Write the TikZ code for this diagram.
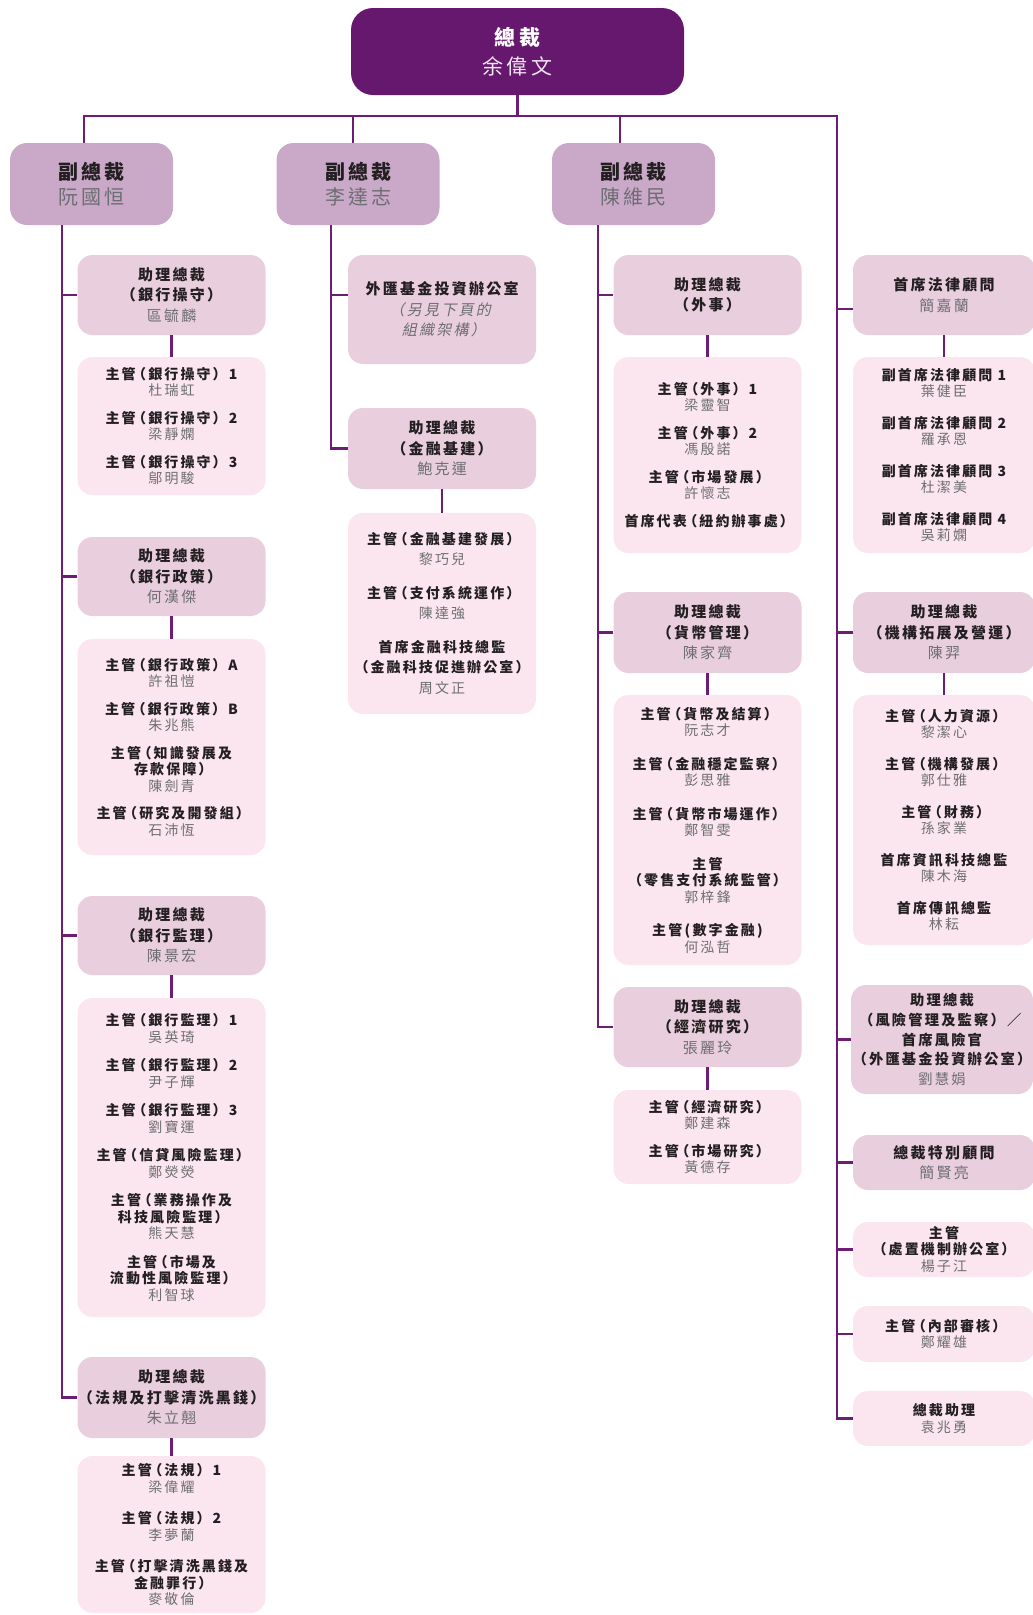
\documentclass[tikz,border=0pt]{standalone}
\usepackage{fontspec}
\setmainfont{Noto Sans CJK TC}[LetterSpace=15]
\newfontfamily\slantfont{Noto Sans CJK TC}[FakeSlant=0.2,LetterSpace=15]
\usetikzlibrary{positioning}

\definecolor{presfill}{HTML}{66176E}
\definecolor{vpfill}{HTML}{C9A8C8}
\definecolor{avpfill}{HTML}{E9CEDE}
\definecolor{stafffill}{HTML}{FBE6EF}
\definecolor{linkline}{HTML}{6E1D77}
\definecolor{titletext}{HTML}{231F20}
\definecolor{nametext}{HTML}{6D6E71}
\definecolor{presname}{HTML}{F0E4F2}

\newcommand{\nm}[1]{{\mdseries\color{nametext}#1}}
\newcommand{\fxnote}[1]{{\slantfont\mdseries\color{nametext}#1}}
\newcommand{\lp}{\kern-.25em（}
\newcommand{\rp}{）\kern-.25em}

\begin{document}
\begin{tikzpicture}[x=1pt,y=-1pt,
    link/.style={draw=linkline,line width=2.4pt},
    main node/.style={rounded corners=15pt,align=center,inner sep=0pt,
                      text=titletext,minimum width=188pt},
    pres node/.style={main node,fill=presfill,text=white,minimum width=333pt,
                      minimum height=87pt,rounded corners=22pt,
                      font=\bfseries\fontsize{21}{29}\selectfont},
    vp node/.style={main node,fill=vpfill,minimum width=163pt,minimum height=82pt,
                    rounded corners=17pt,font=\bfseries\fontsize{20}{25}\selectfont},
    avp node/.style={main node,fill=avpfill,font=\bfseries\fontsize{15}{20.5}\selectfont},
    staff node/.style={main node,fill=stafffill,font=\bfseries\fontsize{14}{16.5}\selectfont},
    side node/.style={minimum width=182pt}]

  \useasboundingbox (0,0) rectangle (1033,1615);

  % top
  \node[pres node] (pres) at (517.5,51.5) {總裁\\{\mdseries\color{presname}余偉文}};
  \node[vp node] (vp1) at (91.5,184) {副總裁\\\nm{阮國恒}};
  \node[vp node] (vp2) at (358,184) {副總裁\\\nm{李達志}};
  \node[vp node] (vp3) at (633.5,184) {副總裁\\\nm{陳維民}};
  \coordinate (barR) at (837,116);

  % column 1
  \node[avp node,minimum height=80pt] (avpOps) at (171.5,295) {助理總裁\\\lp 銀行操守\rp\\\nm{區毓麟}};
  \node[staff node,minimum height=138pt] (staffOps) at (171.5,426)
    {主管\lp 銀行操守）1\\\nm{杜瑞虹}\\[11pt]
     主管\lp 銀行操守）2\\\nm{梁靜嫻}\\[11pt]
     主管\lp 銀行操守）3\\\nm{鄔明駿}};
  \node[avp node,minimum height=79pt] (avpPol) at (171.5,576.5) {助理總裁\\\lp 銀行政策\rp\\\nm{何漢傑}};
  \node[staff node,minimum height=216pt] (staffPol) at (171.5,747)
    {主管\lp 銀行政策）A\\\nm{許祖愷}\\[11pt]
     主管\lp 銀行政策）B\\\nm{朱兆熊}\\[11pt]
     主管\lp 知識發展及\\存款保障\rp\\\nm{陳劍青}\\[11pt]
     主管\lp 研究及開發組\rp\\\nm{石沛恆}};
  \node[avp node,minimum height=79pt] (avpSup) at (171.5,935.5) {助理總裁\\\lp 銀行監理\rp\\\nm{陳景宏}};
  \node[staff node,minimum height=319pt] (staffSup) at (171.5,1157.5)
    {主管\lp 銀行監理）1\\\nm{吳英琦}\\[12pt]
     主管\lp 銀行監理）2\\\nm{尹子輝}\\[12pt]
     主管\lp 銀行監理）3\\\nm{劉寶運}\\[12pt]
     主管\lp 信貸風險監理\rp\\\nm{鄭熒熒}\\[12pt]
     主管\lp 業務操作及\\科技風險監理\rp\\\nm{熊天慧}\\[12pt]
     主管\lp 市場及\\流動性風險監理\rp\\\nm{利智球}};
  \node[avp node,minimum height=81pt] (avpAml) at (171.5,1397.5) {助理總裁\\\lp 法規及打擊清洗黑錢\rp\\\nm{朱立翹}};
  \node[staff node,minimum height=157pt] (staffAml) at (171.5,1534.5)
    {主管\lp 法規）1\\\nm{梁偉耀}\\[15pt]
     主管\lp 法規）2\\\nm{李夢蘭}\\[15pt]
     主管\lp 打擊清洗黑錢及\\金融罪行\rp\\\nm{麥敬倫}};

  % column 2
  \node[avp node,minimum height=109pt] (fxOffice) at (442,309.5)
    {外匯基金投資辦公室\\\fxnote{\lp 另見下頁的}\\\fxnote{組織架構\rp}};
  \node[avp node,minimum height=81pt] (avpInfra) at (442,448.5) {助理總裁\\\lp 金融基建\rp\\\nm{鮑克運}};
  \node[staff node,minimum height=201pt,font=\bfseries\fontsize{14}{20.5}\selectfont] (staffInfra) at (442,613.5)
    {主管\lp 金融基建發展\rp\\\nm{黎巧兒}\\[13pt]
     主管\lp 支付系統運作\rp\\\nm{陳達強}\\[13pt]
     首席金融科技總監\\\lp 金融科技促進辦公室\rp\\\nm{周文正}};

  % column 3
  \node[avp node,minimum height=80pt] (avpExt) at (707.5,295) {助理總裁\\\lp 外事\rp};
  \node[staff node,minimum height=196pt] (staffExt) at (707.5,455)
    {主管\lp 外事）1\\\nm{梁靈智}\\[11pt]
     主管\lp 外事）2\\\nm{馮殷諾}\\[11pt]
     主管\lp 市場發展\rp\\\nm{許懷志}\\[11pt]
     首席代表\lp 紐約辦事處\rp};
  \node[avp node,minimum height=81pt] (avpMon) at (707.5,632.5) {助理總裁\\\lp 貨幣管理\rp\\\nm{陳家齊}};
  \node[staff node,minimum height=270pt] (staffMon) at (707.5,830)
    {主管\lp 貨幣及結算\rp\\\nm{阮志才}\\[17pt]
     主管\lp 金融穩定監察\rp\\\nm{彭思雅}\\[17pt]
     主管\lp 貨幣市場運作\rp\\\nm{鄭智雯}\\[17pt]
     主管\\\lp 零售支付系統監管\rp\\\nm{郭梓鋒}\\[17pt]
     主管\,(\,數字金融\,)\\\nm{何泓哲}};
  \node[avp node,minimum height=80pt] (avpRes) at (707.5,1027) {助理總裁\\\lp 經濟研究\rp\\\nm{張麗玲}};
  \node[staff node,minimum height=94pt] (staffRes) at (707.5,1137)
    {主管\lp 經濟研究\rp\\\nm{鄭建森}\\[11pt]
     主管\lp 市場研究\rp\\\nm{黃德存}};

  % column 4
  \node[avp node,side node,minimum height=80pt] (legal) at (944,295) {首席法律顧問\\\nm{簡嘉蘭}};
  \node[staff node,side node,minimum height=196pt] (staffLegal) at (944,455)
    {副首席法律顧問 1\\\nm{葉健臣}\\[15pt]
     副首席法律顧問 2\\\nm{羅承恩}\\[15pt]
     副首席法律顧問 3\\\nm{杜潔美}\\[15pt]
     副首席法律顧問 4\\\nm{吳莉嫻}};
  \node[avp node,side node,minimum height=81pt] (avpCorp) at (944,632.5) {助理總裁\\\lp 機構拓展及營運\rp\\\nm{陳羿}};
  \node[staff node,side node,minimum height=250pt] (staffCorp) at (944,820)
    {主管\lp 人力資源\rp\\\nm{黎潔心}\\[15pt]
     主管\lp 機構發展\rp\\\nm{郭仕雅}\\[15pt]
     主管\lp 財務\rp\\\nm{孫家業}\\[15pt]
     首席資訊科技總監\\\nm{陳木海}\\[15pt]
     首席傳訊總監\\\nm{林耘}};
  \node[avp node,side node,minimum height=109pt,font=\bfseries\fontsize{14.3}{19.6}\selectfont] (avpRisk) at (942,1039.5)
    {助理總裁\\\lp 風險管理及監察）／\\首席風險官\\\lp 外匯基金投資辦公室\rp\\\nm{劉慧娟}};
  \node[avp node,side node,minimum height=55pt] (advisor) at (944,1162.5) {總裁特別顧問\\\nm{簡賢亮}};
  \node[staff node,side node,minimum height=55pt] (resolution) at (944,1249.5) {主管\\\lp 處置機制辦公室\rp\\\nm{楊子江}};
  \node[staff node,side node,minimum height=56pt] (audit) at (944,1334) {主管\lp 內部審核\rp\\\nm{鄭耀雄}};
  \node[staff node,side node,minimum height=55pt] (assistant) at (944,1418.5) {總裁助理\\\nm{袁兆勇}};

  % connectors
  \draw[link] (pres.south) -- (pres.south |- barR);
  \draw[link] ([xshift=-7.5pt]vp1.north) |- (barR) |- (assistant.west);
  \draw[link] ([xshift=-5pt]vp2.north) -- ([xshift=-5pt]vp2.north |- barR);
  \draw[link] ([xshift=-13.5pt]vp3.north) -- ([xshift=-13.5pt]vp3.north |- barR);

  \draw[link] ([xshift=-29.5pt]vp1.south) |- (avpOps.west);
  \draw[link] ([xshift=-29.5pt]vp1.south) |- (avpPol.west);
  \draw[link] ([xshift=-29.5pt]vp1.south) |- (avpSup.west);
  \draw[link] ([xshift=-29.5pt]vp1.south) |- (avpAml.west);

  \draw[link] ([xshift=-27pt]vp2.south) |- (fxOffice.west |- avpOps.west);
  \draw[link] ([xshift=-27pt]vp2.south) |- (avpInfra.west);

  \draw[link] ([xshift=-35.5pt]vp3.south) |- (avpExt.west);
  \draw[link] ([xshift=-35.5pt]vp3.south) |- (avpMon.west);
  \draw[link] ([xshift=-35.5pt]vp3.south) |- (avpRes.west);

  \draw[link] (barR) |- ([yshift=-14pt]legal.west);
  \draw[link] (barR) |- (avpCorp.west);
  \draw[link] (barR) |- (avpRisk.west);
  \draw[link] (barR) |- (advisor.west);
  \draw[link] (barR) |- (resolution.west);
  \draw[link] (barR) |- (audit.west);

  \path[link]
    (avpOps) edge (staffOps)
    (avpPol) edge (staffPol)
    (avpSup) edge (staffSup)
    (avpAml) edge (staffAml)
    (avpInfra) edge (staffInfra)
    (avpExt) edge (staffExt)
    (avpMon) edge (staffMon)
    (avpRes) edge (staffRes)
    (legal) edge (staffLegal)
    (avpCorp) edge (staffCorp);

\end{tikzpicture}
\end{document}
